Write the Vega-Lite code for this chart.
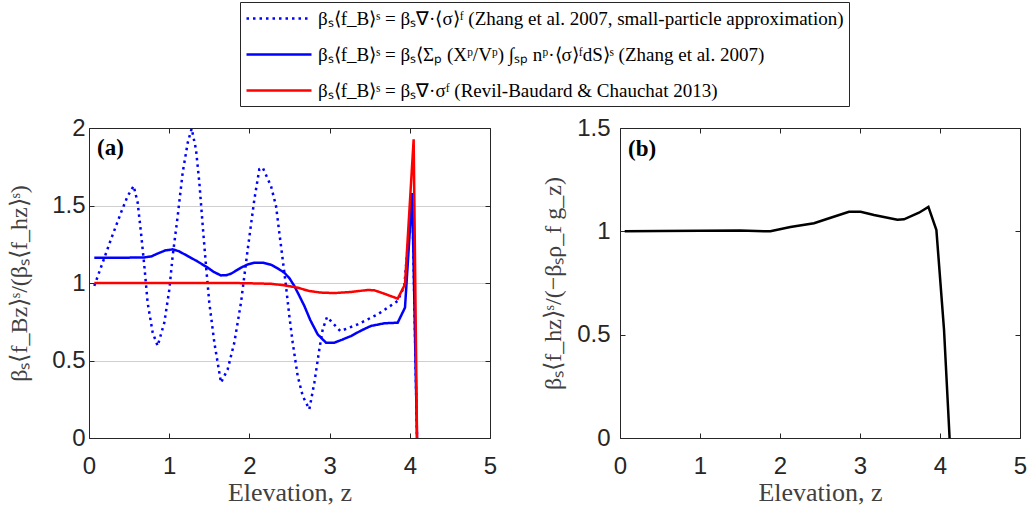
{
  "$schema": "https://vega.github.io/schema/vega-lite/v6.json",
  "background": "white",
  "autosize": {"type": "pad"},
  "padding": {"left": 7, "top": 1, "right": 15, "bottom": 2},
  "spacing": 130,
  "bounds": "flush",
  "config": {
    "view": {"stroke": null},
    "axis": {
      "labelFont": "Liberation Sans", "labelFontSize": 24, "labelColor": "#262626", "labelFlush": false, "labelOverlap": false,
      "tickColor": "#262626", "tickSize": -5, "tickWidth": 1,
      "domain": true, "domainColor": "#262626", "domainWidth": 1, "grid": false,
      "titleFont": "Liberation Serif", "titleFontSize": 24, "titleFontWeight": "normal", "titleColor": "#404040"
    }
  },
  "datasets": {
    "a": [
      {"series": "βₛ⟨f_B⟩ˢ = βₛ∇·⟨σ⟩ᶠ (Zhang et al. 2007, small-particle approximation)", "z": 0.066, "v": 0.981},
      {"series": "βₛ⟨f_B⟩ˢ = βₛ∇·⟨σ⟩ᶠ (Zhang et al. 2007, small-particle approximation)", "z": 0.274, "v": 1.282},
      {"series": "βₛ⟨f_B⟩ˢ = βₛ∇·⟨σ⟩ᶠ (Zhang et al. 2007, small-particle approximation)", "z": 0.399, "v": 1.454},
      {"series": "βₛ⟨f_B⟩ˢ = βₛ∇·⟨σ⟩ᶠ (Zhang et al. 2007, small-particle approximation)", "z": 0.482, "v": 1.561},
      {"series": "βₛ⟨f_B⟩ˢ = βₛ∇·⟨σ⟩ᶠ (Zhang et al. 2007, small-particle approximation)", "z": 0.557, "v": 1.626},
      {"series": "βₛ⟨f_B⟩ˢ = βₛ∇·⟨σ⟩ᶠ (Zhang et al. 2007, small-particle approximation)", "z": 0.607, "v": 1.518},
      {"series": "βₛ⟨f_B⟩ˢ = βₛ∇·⟨σ⟩ᶠ (Zhang et al. 2007, small-particle approximation)", "z": 0.648, "v": 1.325},
      {"series": "βₛ⟨f_B⟩ˢ = βₛ∇·⟨σ⟩ᶠ (Zhang et al. 2007, small-particle approximation)", "z": 0.690, "v": 1.110},
      {"series": "βₛ⟨f_B⟩ˢ = βₛ∇·⟨σ⟩ᶠ (Zhang et al. 2007, small-particle approximation)", "z": 0.731, "v": 0.873},
      {"series": "βₛ⟨f_B⟩ˢ = βₛ∇·⟨σ⟩ᶠ (Zhang et al. 2007, small-particle approximation)", "z": 0.794, "v": 0.680},
      {"series": "βₛ⟨f_B⟩ˢ = βₛ∇·⟨σ⟩ᶠ (Zhang et al. 2007, small-particle approximation)", "z": 0.856, "v": 0.594},
      {"series": "βₛ⟨f_B⟩ˢ = βₛ∇·⟨σ⟩ᶠ (Zhang et al. 2007, small-particle approximation)", "z": 0.939, "v": 0.744},
      {"series": "βₛ⟨f_B⟩ˢ = βₛ∇·⟨σ⟩ᶠ (Zhang et al. 2007, small-particle approximation)", "z": 1.002, "v": 0.959},
      {"series": "βₛ⟨f_B⟩ˢ = βₛ∇·⟨σ⟩ᶠ (Zhang et al. 2007, small-particle approximation)", "z": 1.043, "v": 1.174},
      {"series": "βₛ⟨f_B⟩ˢ = βₛ∇·⟨σ⟩ᶠ (Zhang et al. 2007, small-particle approximation)", "z": 1.106, "v": 1.432},
      {"series": "βₛ⟨f_B⟩ˢ = βₛ∇·⟨σ⟩ᶠ (Zhang et al. 2007, small-particle approximation)", "z": 1.168, "v": 1.712},
      {"series": "βₛ⟨f_B⟩ˢ = βₛ∇·⟨σ⟩ᶠ (Zhang et al. 2007, small-particle approximation)", "z": 1.231, "v": 1.905},
      {"series": "βₛ⟨f_B⟩ˢ = βₛ∇·⟨σ⟩ᶠ (Zhang et al. 2007, small-particle approximation)", "z": 1.280, "v": 1.996},
      {"series": "βₛ⟨f_B⟩ˢ = βₛ∇·⟨σ⟩ᶠ (Zhang et al. 2007, small-particle approximation)", "z": 1.334, "v": 1.862},
      {"series": "βₛ⟨f_B⟩ˢ = βₛ∇·⟨σ⟩ᶠ (Zhang et al. 2007, small-particle approximation)", "z": 1.376, "v": 1.647},
      {"series": "βₛ⟨f_B⟩ˢ = βₛ∇·⟨σ⟩ᶠ (Zhang et al. 2007, small-particle approximation)", "z": 1.418, "v": 1.368},
      {"series": "βₛ⟨f_B⟩ˢ = βₛ∇·⟨σ⟩ᶠ (Zhang et al. 2007, small-particle approximation)", "z": 1.459, "v": 1.110},
      {"series": "βₛ⟨f_B⟩ˢ = βₛ∇·⟨σ⟩ᶠ (Zhang et al. 2007, small-particle approximation)", "z": 1.500, "v": 0.873},
      {"series": "βₛ⟨f_B⟩ˢ = βₛ∇·⟨σ⟩ᶠ (Zhang et al. 2007, small-particle approximation)", "z": 1.563, "v": 0.615},
      {"series": "βₛ⟨f_B⟩ˢ = βₛ∇·⟨σ⟩ᶠ (Zhang et al. 2007, small-particle approximation)", "z": 1.646, "v": 0.357},
      {"series": "βₛ⟨f_B⟩ˢ = βₛ∇·⟨σ⟩ᶠ (Zhang et al. 2007, small-particle approximation)", "z": 1.729, "v": 0.443},
      {"series": "βₛ⟨f_B⟩ˢ = βₛ∇·⟨σ⟩ᶠ (Zhang et al. 2007, small-particle approximation)", "z": 1.812, "v": 0.615},
      {"series": "βₛ⟨f_B⟩ˢ = βₛ∇·⟨σ⟩ᶠ (Zhang et al. 2007, small-particle approximation)", "z": 1.895, "v": 0.873},
      {"series": "βₛ⟨f_B⟩ˢ = βₛ∇·⟨σ⟩ᶠ (Zhang et al. 2007, small-particle approximation)", "z": 1.979, "v": 1.217},
      {"series": "βₛ⟨f_B⟩ˢ = βₛ∇·⟨σ⟩ᶠ (Zhang et al. 2007, small-particle approximation)", "z": 2.062, "v": 1.540},
      {"series": "βₛ⟨f_B⟩ˢ = βₛ∇·⟨σ⟩ᶠ (Zhang et al. 2007, small-particle approximation)", "z": 2.124, "v": 1.734},
      {"series": "βₛ⟨f_B⟩ˢ = βₛ∇·⟨σ⟩ᶠ (Zhang et al. 2007, small-particle approximation)", "z": 2.166, "v": 1.744},
      {"series": "βₛ⟨f_B⟩ˢ = βₛ∇·⟨σ⟩ᶠ (Zhang et al. 2007, small-particle approximation)", "z": 2.269, "v": 1.626},
      {"series": "βₛ⟨f_B⟩ˢ = βₛ∇·⟨σ⟩ᶠ (Zhang et al. 2007, small-particle approximation)", "z": 2.332, "v": 1.497},
      {"series": "βₛ⟨f_B⟩ˢ = βₛ∇·⟨σ⟩ᶠ (Zhang et al. 2007, small-particle approximation)", "z": 2.373, "v": 1.325},
      {"series": "βₛ⟨f_B⟩ˢ = βₛ∇·⟨σ⟩ᶠ (Zhang et al. 2007, small-particle approximation)", "z": 2.415, "v": 1.153},
      {"series": "βₛ⟨f_B⟩ˢ = βₛ∇·⟨σ⟩ᶠ (Zhang et al. 2007, small-particle approximation)", "z": 2.456, "v": 0.981},
      {"series": "βₛ⟨f_B⟩ˢ = βₛ∇·⟨σ⟩ᶠ (Zhang et al. 2007, small-particle approximation)", "z": 2.498, "v": 0.787},
      {"series": "βₛ⟨f_B⟩ˢ = βₛ∇·⟨σ⟩ᶠ (Zhang et al. 2007, small-particle approximation)", "z": 2.540, "v": 0.615},
      {"series": "βₛ⟨f_B⟩ˢ = βₛ∇·⟨σ⟩ᶠ (Zhang et al. 2007, small-particle approximation)", "z": 2.602, "v": 0.400},
      {"series": "βₛ⟨f_B⟩ˢ = βₛ∇·⟨σ⟩ᶠ (Zhang et al. 2007, small-particle approximation)", "z": 2.665, "v": 0.271},
      {"series": "βₛ⟨f_B⟩ˢ = βₛ∇·⟨σ⟩ᶠ (Zhang et al. 2007, small-particle approximation)", "z": 2.747, "v": 0.185},
      {"series": "βₛ⟨f_B⟩ˢ = βₛ∇·⟨σ⟩ᶠ (Zhang et al. 2007, small-particle approximation)", "z": 2.810, "v": 0.357},
      {"series": "βₛ⟨f_B⟩ˢ = βₛ∇·⟨σ⟩ᶠ (Zhang et al. 2007, small-particle approximation)", "z": 2.872, "v": 0.572},
      {"series": "βₛ⟨f_B⟩ˢ = βₛ∇·⟨σ⟩ᶠ (Zhang et al. 2007, small-particle approximation)", "z": 2.914, "v": 0.701},
      {"series": "βₛ⟨f_B⟩ˢ = βₛ∇·⟨σ⟩ᶠ (Zhang et al. 2007, small-particle approximation)", "z": 2.968, "v": 0.781},
      {"series": "βₛ⟨f_B⟩ˢ = βₛ∇·⟨σ⟩ᶠ (Zhang et al. 2007, small-particle approximation)", "z": 3.134, "v": 0.690},
      {"series": "βₛ⟨f_B⟩ˢ = βₛ∇·⟨σ⟩ᶠ (Zhang et al. 2007, small-particle approximation)", "z": 3.350, "v": 0.733},
      {"series": "βₛ⟨f_B⟩ˢ = βₛ∇·⟨σ⟩ᶠ (Zhang et al. 2007, small-particle approximation)", "z": 3.600, "v": 0.798},
      {"series": "βₛ⟨f_B⟩ˢ = βₛ∇·⟨σ⟩ᶠ (Zhang et al. 2007, small-particle approximation)", "z": 3.849, "v": 0.884},
      {"series": "βₛ⟨f_B⟩ˢ = βₛ∇·⟨σ⟩ᶠ (Zhang et al. 2007, small-particle approximation)", "z": 3.932, "v": 0.981},
      {"series": "βₛ⟨f_B⟩ˢ = βₛ∇·⟨σ⟩ᶠ (Zhang et al. 2007, small-particle approximation)", "z": 4.030, "v": 1.580},
      {"series": "βₛ⟨f_B⟩ˢ = βₛ∇·⟨σ⟩ᶠ (Zhang et al. 2007, small-particle approximation)", "z": 4.090, "v": 0.0},
      {"series": "βₛ⟨f_B⟩ˢ = βₛ⟨Σₚ (Xᵖ/Vᵖ) ∫ₛₚ nᵖ·⟨σ⟩ᶠdS⟩ˢ (Zhang et al. 2007)", "z": 0.066, "v": 1.163},
      {"series": "βₛ⟨f_B⟩ˢ = βₛ⟨Σₚ (Xᵖ/Vᵖ) ∫ₛₚ nᵖ·⟨σ⟩ᶠdS⟩ˢ (Zhang et al. 2007)", "z": 0.400, "v": 1.163},
      {"series": "βₛ⟨f_B⟩ˢ = βₛ⟨Σₚ (Xᵖ/Vᵖ) ∫ₛₚ nᵖ·⟨σ⟩ᶠdS⟩ˢ (Zhang et al. 2007)", "z": 0.690, "v": 1.165},
      {"series": "βₛ⟨f_B⟩ˢ = βₛ⟨Σₚ (Xᵖ/Vᵖ) ∫ₛₚ nᵖ·⟨σ⟩ᶠdS⟩ˢ (Zhang et al. 2007)", "z": 0.780, "v": 1.172},
      {"series": "βₛ⟨f_B⟩ˢ = βₛ⟨Σₚ (Xᵖ/Vᵖ) ∫ₛₚ nᵖ·⟨σ⟩ᶠdS⟩ˢ (Zhang et al. 2007)", "z": 0.856, "v": 1.190},
      {"series": "βₛ⟨f_B⟩ˢ = βₛ⟨Σₚ (Xᵖ/Vᵖ) ∫ₛₚ nᵖ·⟨σ⟩ᶠdS⟩ˢ (Zhang et al. 2007)", "z": 0.950, "v": 1.210},
      {"series": "βₛ⟨f_B⟩ˢ = βₛ⟨Σₚ (Xᵖ/Vᵖ) ∫ₛₚ nᵖ·⟨σ⟩ᶠdS⟩ˢ (Zhang et al. 2007)", "z": 1.043, "v": 1.217},
      {"series": "βₛ⟨f_B⟩ˢ = βₛ⟨Σₚ (Xᵖ/Vᵖ) ∫ₛₚ nᵖ·⟨σ⟩ᶠdS⟩ˢ (Zhang et al. 2007)", "z": 1.120, "v": 1.205},
      {"series": "βₛ⟨f_B⟩ˢ = βₛ⟨Σₚ (Xᵖ/Vᵖ) ∫ₛₚ nᵖ·⟨σ⟩ᶠdS⟩ˢ (Zhang et al. 2007)", "z": 1.231, "v": 1.174},
      {"series": "βₛ⟨f_B⟩ˢ = βₛ⟨Σₚ (Xᵖ/Vᵖ) ∫ₛₚ nᵖ·⟨σ⟩ᶠdS⟩ˢ (Zhang et al. 2007)", "z": 1.350, "v": 1.140},
      {"series": "βₛ⟨f_B⟩ˢ = βₛ⟨Σₚ (Xᵖ/Vᵖ) ∫ₛₚ nᵖ·⟨σ⟩ᶠdS⟩ˢ (Zhang et al. 2007)", "z": 1.480, "v": 1.099},
      {"series": "βₛ⟨f_B⟩ˢ = βₛ⟨Σₚ (Xᵖ/Vᵖ) ∫ₛₚ nᵖ·⟨σ⟩ᶠdS⟩ˢ (Zhang et al. 2007)", "z": 1.560, "v": 1.070},
      {"series": "βₛ⟨f_B⟩ˢ = βₛ⟨Σₚ (Xᵖ/Vᵖ) ∫ₛₚ nᵖ·⟨σ⟩ᶠdS⟩ˢ (Zhang et al. 2007)", "z": 1.646, "v": 1.049},
      {"series": "βₛ⟨f_B⟩ˢ = βₛ⟨Σₚ (Xᵖ/Vᵖ) ∫ₛₚ nᵖ·⟨σ⟩ᶠdS⟩ˢ (Zhang et al. 2007)", "z": 1.710, "v": 1.050},
      {"series": "βₛ⟨f_B⟩ˢ = βₛ⟨Σₚ (Xᵖ/Vᵖ) ∫ₛₚ nᵖ·⟨σ⟩ᶠdS⟩ˢ (Zhang et al. 2007)", "z": 1.771, "v": 1.060},
      {"series": "βₛ⟨f_B⟩ˢ = βₛ⟨Σₚ (Xᵖ/Vᵖ) ∫ₛₚ nᵖ·⟨σ⟩ᶠdS⟩ˢ (Zhang et al. 2007)", "z": 1.895, "v": 1.099},
      {"series": "βₛ⟨f_B⟩ˢ = βₛ⟨Σₚ (Xᵖ/Vᵖ) ∫ₛₚ nᵖ·⟨σ⟩ᶠdS⟩ˢ (Zhang et al. 2007)", "z": 1.980, "v": 1.120},
      {"series": "βₛ⟨f_B⟩ˢ = βₛ⟨Σₚ (Xᵖ/Vᵖ) ∫ₛₚ nᵖ·⟨σ⟩ᶠdS⟩ˢ (Zhang et al. 2007)", "z": 2.062, "v": 1.131},
      {"series": "βₛ⟨f_B⟩ˢ = βₛ⟨Σₚ (Xᵖ/Vᵖ) ∫ₛₚ nᵖ·⟨σ⟩ᶠdS⟩ˢ (Zhang et al. 2007)", "z": 2.166, "v": 1.131},
      {"series": "βₛ⟨f_B⟩ˢ = βₛ⟨Σₚ (Xᵖ/Vᵖ) ∫ₛₚ nᵖ·⟨σ⟩ᶠdS⟩ˢ (Zhang et al. 2007)", "z": 2.269, "v": 1.118},
      {"series": "βₛ⟨f_B⟩ˢ = βₛ⟨Σₚ (Xᵖ/Vᵖ) ∫ₛₚ nᵖ·⟨σ⟩ᶠdS⟩ˢ (Zhang et al. 2007)", "z": 2.350, "v": 1.095},
      {"series": "βₛ⟨f_B⟩ˢ = βₛ⟨Σₚ (Xᵖ/Vᵖ) ∫ₛₚ nᵖ·⟨σ⟩ᶠdS⟩ˢ (Zhang et al. 2007)", "z": 2.435, "v": 1.067},
      {"series": "βₛ⟨f_B⟩ˢ = βₛ⟨Σₚ (Xᵖ/Vᵖ) ∫ₛₚ nᵖ·⟨σ⟩ᶠdS⟩ˢ (Zhang et al. 2007)", "z": 2.500, "v": 1.030},
      {"series": "βₛ⟨f_B⟩ˢ = βₛ⟨Σₚ (Xᵖ/Vᵖ) ∫ₛₚ nᵖ·⟨σ⟩ᶠdS⟩ˢ (Zhang et al. 2007)", "z": 2.560, "v": 0.981},
      {"series": "βₛ⟨f_B⟩ˢ = βₛ⟨Σₚ (Xᵖ/Vᵖ) ∫ₛₚ nᵖ·⟨σ⟩ᶠdS⟩ˢ (Zhang et al. 2007)", "z": 2.620, "v": 0.920},
      {"series": "βₛ⟨f_B⟩ˢ = βₛ⟨Σₚ (Xᵖ/Vᵖ) ∫ₛₚ nᵖ·⟨σ⟩ᶠdS⟩ˢ (Zhang et al. 2007)", "z": 2.685, "v": 0.852},
      {"series": "βₛ⟨f_B⟩ˢ = βₛ⟨Σₚ (Xᵖ/Vᵖ) ∫ₛₚ nᵖ·⟨σ⟩ᶠdS⟩ˢ (Zhang et al. 2007)", "z": 2.760, "v": 0.760},
      {"series": "βₛ⟨f_B⟩ˢ = βₛ⟨Σₚ (Xᵖ/Vᵖ) ∫ₛₚ nᵖ·⟨σ⟩ᶠdS⟩ˢ (Zhang et al. 2007)", "z": 2.851, "v": 0.669},
      {"series": "βₛ⟨f_B⟩ˢ = βₛ⟨Σₚ (Xᵖ/Vᵖ) ∫ₛₚ nᵖ·⟨σ⟩ᶠdS⟩ˢ (Zhang et al. 2007)", "z": 2.955, "v": 0.615},
      {"series": "βₛ⟨f_B⟩ˢ = βₛ⟨Σₚ (Xᵖ/Vᵖ) ∫ₛₚ nᵖ·⟨σ⟩ᶠdS⟩ˢ (Zhang et al. 2007)", "z": 3.059, "v": 0.615},
      {"series": "βₛ⟨f_B⟩ˢ = βₛ⟨Σₚ (Xᵖ/Vᵖ) ∫ₛₚ nᵖ·⟨σ⟩ᶠdS⟩ˢ (Zhang et al. 2007)", "z": 3.160, "v": 0.635},
      {"series": "βₛ⟨f_B⟩ˢ = βₛ⟨Σₚ (Xᵖ/Vᵖ) ∫ₛₚ nᵖ·⟨σ⟩ᶠdS⟩ˢ (Zhang et al. 2007)", "z": 3.267, "v": 0.658},
      {"series": "βₛ⟨f_B⟩ˢ = βₛ⟨Σₚ (Xᵖ/Vᵖ) ∫ₛₚ nᵖ·⟨σ⟩ᶠdS⟩ˢ (Zhang et al. 2007)", "z": 3.400, "v": 0.695},
      {"series": "βₛ⟨f_B⟩ˢ = βₛ⟨Σₚ (Xᵖ/Vᵖ) ∫ₛₚ nᵖ·⟨σ⟩ᶠdS⟩ˢ (Zhang et al. 2007)", "z": 3.516, "v": 0.723},
      {"series": "βₛ⟨f_B⟩ˢ = βₛ⟨Σₚ (Xᵖ/Vᵖ) ∫ₛₚ nᵖ·⟨σ⟩ᶠdS⟩ˢ (Zhang et al. 2007)", "z": 3.682, "v": 0.740},
      {"series": "βₛ⟨f_B⟩ˢ = βₛ⟨Σₚ (Xᵖ/Vᵖ) ∫ₛₚ nᵖ·⟨σ⟩ᶠdS⟩ˢ (Zhang et al. 2007)", "z": 3.849, "v": 0.744},
      {"series": "βₛ⟨f_B⟩ˢ = βₛ⟨Σₚ (Xᵖ/Vᵖ) ∫ₛₚ nᵖ·⟨σ⟩ᶠdS⟩ˢ (Zhang et al. 2007)", "z": 3.940, "v": 0.841},
      {"series": "βₛ⟨f_B⟩ˢ = βₛ⟨Σₚ (Xᵖ/Vᵖ) ∫ₛₚ nᵖ·⟨σ⟩ᶠdS⟩ˢ (Zhang et al. 2007)", "z": 4.030, "v": 1.580},
      {"series": "βₛ⟨f_B⟩ˢ = βₛ⟨Σₚ (Xᵖ/Vᵖ) ∫ₛₚ nᵖ·⟨σ⟩ᶠdS⟩ˢ (Zhang et al. 2007)", "z": 4.090, "v": 0.0},
      {"series": "βₛ⟨f_B⟩ˢ = βₛ∇·σᶠ (Revil-Baudard & Chauchat 2013)", "z": 0.066, "v": 1.000},
      {"series": "βₛ⟨f_B⟩ˢ = βₛ∇·σᶠ (Revil-Baudard & Chauchat 2013)", "z": 1.000, "v": 1.000},
      {"series": "βₛ⟨f_B⟩ˢ = βₛ∇·σᶠ (Revil-Baudard & Chauchat 2013)", "z": 1.800, "v": 1.000},
      {"series": "βₛ⟨f_B⟩ˢ = βₛ∇·σᶠ (Revil-Baudard & Chauchat 2013)", "z": 2.000, "v": 0.998},
      {"series": "βₛ⟨f_B⟩ˢ = βₛ∇·σᶠ (Revil-Baudard & Chauchat 2013)", "z": 2.269, "v": 0.995},
      {"series": "βₛ⟨f_B⟩ˢ = βₛ∇·σᶠ (Revil-Baudard & Chauchat 2013)", "z": 2.435, "v": 0.985},
      {"series": "βₛ⟨f_B⟩ˢ = βₛ∇·σᶠ (Revil-Baudard & Chauchat 2013)", "z": 2.602, "v": 0.970},
      {"series": "βₛ⟨f_B⟩ˢ = βₛ∇·σᶠ (Revil-Baudard & Chauchat 2013)", "z": 2.747, "v": 0.948},
      {"series": "βₛ⟨f_B⟩ˢ = βₛ∇·σᶠ (Revil-Baudard & Chauchat 2013)", "z": 2.893, "v": 0.938},
      {"series": "βₛ⟨f_B⟩ˢ = βₛ∇·σᶠ (Revil-Baudard & Chauchat 2013)", "z": 3.059, "v": 0.935},
      {"series": "βₛ⟨f_B⟩ˢ = βₛ∇·σᶠ (Revil-Baudard & Chauchat 2013)", "z": 3.267, "v": 0.942},
      {"series": "βₛ⟨f_B⟩ˢ = βₛ∇·σᶠ (Revil-Baudard & Chauchat 2013)", "z": 3.475, "v": 0.955},
      {"series": "βₛ⟨f_B⟩ˢ = βₛ∇·σᶠ (Revil-Baudard & Chauchat 2013)", "z": 3.558, "v": 0.953},
      {"series": "βₛ⟨f_B⟩ˢ = βₛ∇·σᶠ (Revil-Baudard & Chauchat 2013)", "z": 3.682, "v": 0.931},
      {"series": "βₛ⟨f_B⟩ˢ = βₛ∇·σᶠ (Revil-Baudard & Chauchat 2013)", "z": 3.849, "v": 0.899},
      {"series": "βₛ⟨f_B⟩ˢ = βₛ∇·σᶠ (Revil-Baudard & Chauchat 2013)", "z": 3.940, "v": 0.991},
      {"series": "βₛ⟨f_B⟩ˢ = βₛ∇·σᶠ (Revil-Baudard & Chauchat 2013)", "z": 4.048, "v": 1.927},
      {"series": "βₛ⟨f_B⟩ˢ = βₛ∇·σᶠ (Revil-Baudard & Chauchat 2013)", "z": 4.090, "v": 0.0}
    ],
    "b": [
      {"z": 0.059, "v": 1.000},
      {"z": 0.500, "v": 1.002},
      {"z": 1.000, "v": 1.003},
      {"z": 1.500, "v": 1.004},
      {"z": 1.800, "v": 1.000},
      {"z": 1.880, "v": 1.000},
      {"z": 2.130, "v": 1.021},
      {"z": 2.425, "v": 1.039},
      {"z": 2.633, "v": 1.066},
      {"z": 2.862, "v": 1.095},
      {"z": 3.008, "v": 1.095},
      {"z": 3.175, "v": 1.079},
      {"z": 3.467, "v": 1.056},
      {"z": 3.550, "v": 1.058},
      {"z": 3.737, "v": 1.090},
      {"z": 3.855, "v": 1.118},
      {"z": 3.955, "v": 1.006},
      {"z": 4.050, "v": 0.526},
      {"z": 4.120, "v": 0.0}
    ]
  },
  "hconcat": [
    {
      "width": 401,
      "height": 310,
      "layer": [
        {
          "data": {"name": "a"},
          "mark": {"type": "line", "strokeWidth": 2.5, "strokeCap": "butt"},
          "encoding": {
            "x": {"field": "z", "type": "quantitative", "scale": {"domain": [0, 5], "nice": false},
                  "axis": {"orient": "bottom", "values": [0, 1, 2, 3, 4, 5], "title": "Elevation, z", "titleFontSize": 26, "labelPadding": 21, "titlePadding": 1}},
            "y": {"field": "v", "type": "quantitative", "scale": {"domain": [0, 2], "nice": false},
                  "axis": {"orient": "left", "values": [0, 0.5, 1, 1.5, 2], "format": "~g", "grid": true, "gridColor": "#cfcfcf", "gridWidth": 1,
                           "title": "βₛ⟨f_Bz⟩ˢ/(βₛ⟨f_hz⟩ˢ)", "labelPadding": 9, "minExtent": 40, "maxExtent": 40, "titlePadding": 18}},
            "color": {"field": "series", "type": "nominal",
                      "scale": {"domain": ["βₛ⟨f_B⟩ˢ = βₛ∇·⟨σ⟩ᶠ (Zhang et al. 2007, small-particle approximation)", "βₛ⟨f_B⟩ˢ = βₛ⟨Σₚ (Xᵖ/Vᵖ) ∫ₛₚ nᵖ·⟨σ⟩ᶠdS⟩ˢ (Zhang et al. 2007)", "βₛ⟨f_B⟩ˢ = βₛ∇·σᶠ (Revil-Baudard & Chauchat 2013)"],
                                "range": ["#0000ff", "#0000ff", "#ff0000"]},
                      "legend": {"orient": "none", "legendX": 151, "legendY": -126, "direction": "vertical", "title": null,
                                 "symbolType": "M-1,0H5.5", "symbolSize": 400, "symbolStrokeWidth": 2.5, "symbolFillColor": "transparent",
                                 "labelFont": "Liberation Serif", "labelFontSize": 19, "labelColor": "#000000", "labelLimit": 0, "labelOffset": 50,
                                 "strokeColor": "#262626", "fillColor": "white", "padding": 5, "rowPadding": 14}},
            "strokeDash": {"field": "series", "type": "nominal",
                      "scale": {"domain": ["βₛ⟨f_B⟩ˢ = βₛ∇·⟨σ⟩ᶠ (Zhang et al. 2007, small-particle approximation)", "βₛ⟨f_B⟩ˢ = βₛ⟨Σₚ (Xᵖ/Vᵖ) ∫ₛₚ nᵖ·⟨σ⟩ᶠdS⟩ˢ (Zhang et al. 2007)", "βₛ⟨f_B⟩ˢ = βₛ∇·σᶠ (Revil-Baudard & Chauchat 2013)"],
                                "range": [[2.5, 4], [1, 0], [1, 0]]},
                      "legend": {"orient": "none", "legendX": 151, "legendY": -126, "direction": "vertical", "title": null,
                                 "symbolType": "M-1,0H5.5", "symbolSize": 400, "symbolStrokeWidth": 2.5, "symbolFillColor": "transparent",
                                 "labelFont": "Liberation Serif", "labelFontSize": 19, "labelColor": "#000000", "labelLimit": 0, "labelOffset": 50,
                                 "strokeColor": "#262626", "fillColor": "white", "padding": 5, "rowPadding": 14}}
          }
        },
        {
          "data": {"values": [{"label": "(a)"}]},
          "mark": {"type": "text", "align": "left", "baseline": "middle", "font": "Liberation Serif", "fontSize": 23, "fontWeight": "bold", "color": "#000000"},
          "encoding": {
            "x": {"datum": 0.1, "type": "quantitative", "axis": null},
            "y": {"datum": 1.87, "type": "quantitative", "axis": null},
            "text": {"field": "label"}
          }
        },
        {
          "data": {"name": "a"},
          "mark": {"type": "line", "opacity": 0},
          "encoding": {
            "x": {"field": "z", "type": "quantitative", "axis": {"orient": "top", "values": [0, 1, 2, 3, 4, 5], "labels": false, "title": null, "minExtent": 0, "maxExtent": 0}},
            "y": {"field": "v", "type": "quantitative", "axis": {"orient": "right", "values": [0, 0.5, 1, 1.5, 2], "labels": false, "title": null, "minExtent": 0, "maxExtent": 0}}
          }
        }
      ],
      "resolve": {"axis": {"x": "independent", "y": "independent"}}
    },
    {
      "width": 400,
      "height": 310,
      "layer": [
        {
          "data": {"name": "b"},
          "mark": {"type": "line", "strokeWidth": 2.5, "color": "#000000"},
          "encoding": {
            "x": {"field": "z", "type": "quantitative", "scale": {"domain": [0, 5], "nice": false},
                  "axis": {"orient": "bottom", "values": [0, 1, 2, 3, 4, 5], "title": "Elevation, z", "titleFontSize": 26, "labelPadding": 21, "titlePadding": 1}},
            "y": {"field": "v", "type": "quantitative", "scale": {"domain": [0, 1.5], "nice": false},
                  "axis": {"orient": "left", "values": [0, 0.5, 1, 1.5], "format": "~g",
                           "title": "βₛ⟨f_hz⟩ˢ/(−βₛρ_f g_z)", "labelPadding": 15, "minExtent": 40, "maxExtent": 40, "titlePadding": 15}}
          }
        },
        {
          "data": {"values": [{"label": "(b)"}]},
          "mark": {"type": "text", "align": "left", "baseline": "middle", "font": "Liberation Serif", "fontSize": 23, "fontWeight": "bold", "color": "#000000"},
          "encoding": {
            "x": {"datum": 0.1, "type": "quantitative", "axis": null},
            "y": {"datum": 1.4, "type": "quantitative", "axis": null},
            "text": {"field": "label"}
          }
        },
        {
          "data": {"name": "b"},
          "mark": {"type": "line", "opacity": 0},
          "encoding": {
            "x": {"field": "z", "type": "quantitative", "axis": {"orient": "top", "values": [0, 1, 2, 3, 4, 5], "labels": false, "title": null, "minExtent": 0, "maxExtent": 0}},
            "y": {"field": "v", "type": "quantitative", "axis": {"orient": "right", "values": [0, 0.5, 1, 1.5], "labels": false, "title": null, "minExtent": 0, "maxExtent": 0}}
          }
        }
      ],
      "resolve": {"axis": {"x": "independent", "y": "independent"}}
    }
  ]
}
